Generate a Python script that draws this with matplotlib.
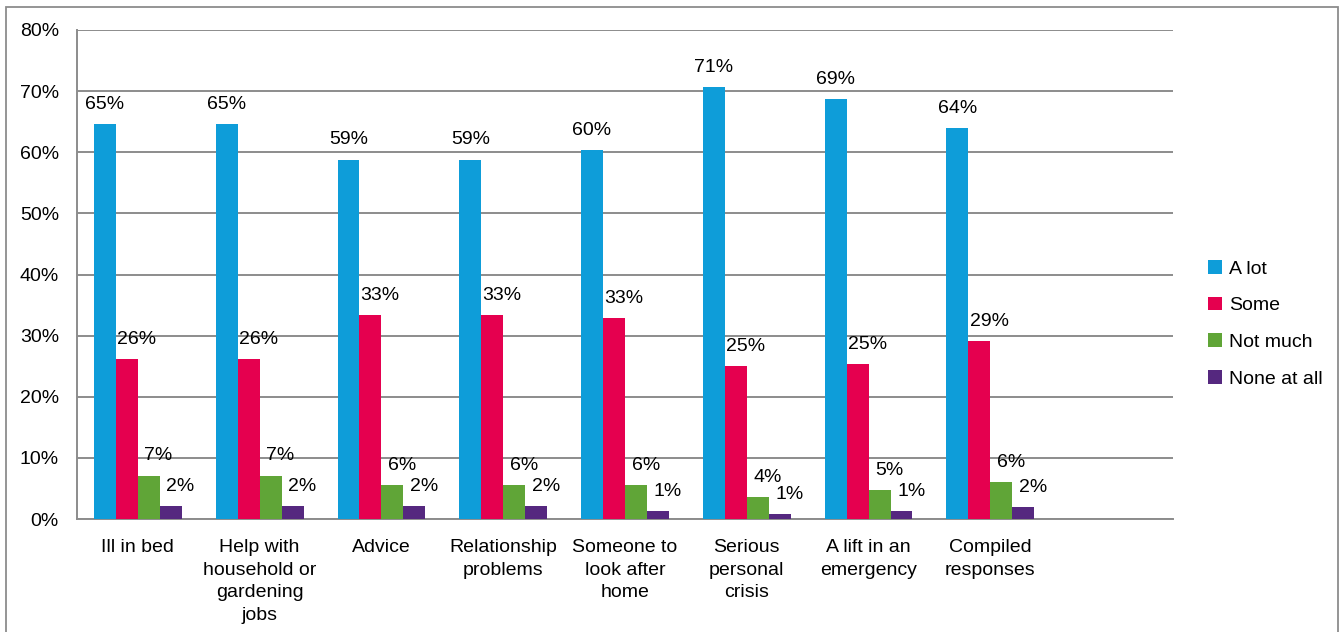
import matplotlib
matplotlib.use("Agg")
import matplotlib.pyplot as plt
from matplotlib.patches import Patch, Rectangle
import numpy as np

plt.rcParams['font.family'] = ['Liberation Sans', 'DejaVu Sans']

categories = ["Ill in bed", "Help with\nhousehold or\ngardening\njobs", "Advice",
              "Relationship\nproblems", "Someone to\nlook after\nhome", "Serious\npersonal\ncrisis",
              "A lift in an\nemergency", "Compiled\nresponses", ""]
series_names = ["A lot", "Some", "Not much", "None at all"]
a_lot = [64.6, 64.6, 58.8, 58.8, 60.4, 70.6, 68.7, 64.0, None]
some = [26.1, 26.1, 33.4, 33.4, 32.9, 25.0, 25.3, 29.1, None]
not_much = [7.1, 7.1, 5.6, 5.6, 5.6, 3.6, 4.7, 6.0, None]
none_at_all = [2.1, 2.1, 2.1, 2.1, 1.3, 0.8, 1.3, 1.9, None]
colors = ["#0E9DD9", "#E5004F", "#60A537", "#55287F"]
yticks = [0, 10, 20, 30, 40, 50, 60, 70, 80]

fig = plt.figure(figsize=(13.42, 6.32), dpi=100)
ax = fig.add_axes([77/1342, (632-519)/632, (1173-77)/1342, (519-30)/632])

series = [a_lot, some, not_much, none_at_all]
n = len(categories)
x = np.arange(n)
bw = 22/122
fs = 14
for i, (vals, col) in enumerate(zip(series, colors)):
    xs = [xx for xx, v in zip(x, vals) if v is not None]
    vs = [v for v in vals if v is not None]
    pos = np.array(xs) + (i - 1.5) * bw
    ax.bar(pos, vs, width=bw, color=col, zorder=3, linewidth=0)
    for p, v in zip(pos, vs):
        ax.annotate(f"{round(v):.0f}%", (p, v), xytext=(0 if i == 0 else 7, 8),
                    textcoords="offset points", ha="center", va="bottom", fontsize=fs, zorder=4)

ax.set_xlim(-0.5, n - 0.5)
ax.set_ylim(0, 80)
ax.set_yticks(yticks)
ax.set_yticklabels([f"{t}%" for t in yticks], fontsize=fs)
ax.set_xticks(x)
ax.set_xticklabels(categories, fontsize=fs, linespacing=1.42, va="top")
ax.tick_params(axis="both", length=0)
ax.tick_params(axis="y", pad=13)
ax.tick_params(axis="x", pad=14.5)
ax.yaxis.grid(True, color="#8C8C8C", linewidth=1.4, zorder=0)
ax.set_axisbelow(True)
for s in ["top", "right"]:
    ax.spines[s].set_visible(False)
for s in ["left", "bottom"]:
    ax.spines[s].set_color("#8C8C8C")
    ax.spines[s].set_linewidth(1.4)

handles = [Patch(facecolor=c, edgecolor="none", label=l) for c, l in zip(colors, series_names)]
fig.legend(handles=handles, loc="upper left", bbox_to_anchor=(1208/1342, 1 - 260/632),
           frameon=False, fontsize=fs, handlelength=0.7, handleheight=0.7,
           handletextpad=0.4, labelspacing=0.98, borderaxespad=0, borderpad=0)

fig.patches.append(Rectangle((6/1342, -0.05), (1338-6)/1342, 1.05 - 7/632,
                             transform=fig.transFigure, fill=False,
                             edgecolor="#8C8C8C", linewidth=1.3))

fig.savefig("out.png", dpi=100)
